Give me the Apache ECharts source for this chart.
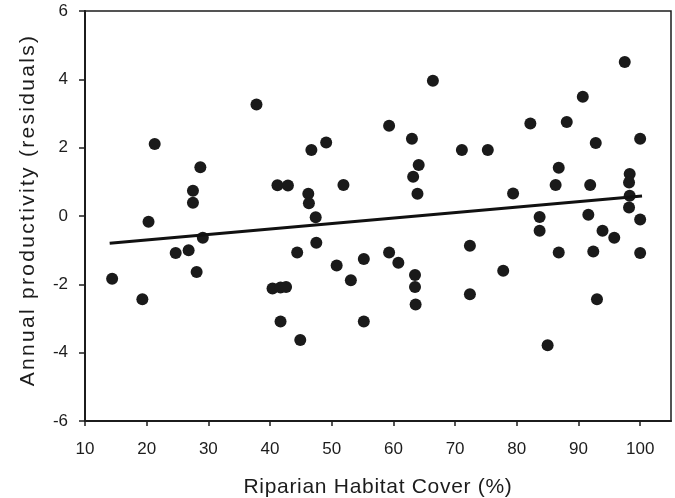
<!DOCTYPE html>
<html>
<head>
<meta charset="utf-8">
<script src="https://cdn.jsdelivr.net/npm/echarts@6/dist/echarts.min.js"></script>
<style>
html,body{margin:0;padding:0;background:#fff;}
#chart{width:675px;height:498px;}
</style>
</head>
<body>
<div id="chart"></div>
<script>
// ---- data ----
const habitatCover = [14.4,19.3,20.3,21.3,24.7,26.8,27.5,27.5,28.1,28.7,29.1,37.8,40.4,41.7,42.6,41.2,42.9,41.7,44.4,44.9,46.2,46.3,46.7,47.4,47.5,49.1,50.8,51.9,53.1,55.2,55.2,59.3,59.3,60.8,63.0,63.2,63.5,63.5,63.6,63.9,64.1,66.4,71.1,72.4,72.4,75.3,77.8,79.4,82.2,83.7,83.7,85.0,86.3,86.8,86.8,88.1,90.7,91.6,91.9,92.4,92.8,93.0,93.9,95.8,97.5,98.3,98.2,98.3,98.2,100,100,100];
const residuals = [-1.84,-2.44,-0.17,2.11,-1.08,-1.00,0.74,0.39,-1.64,1.43,-0.64,3.26,-2.12,-2.09,-2.08,0.90,0.89,-3.09,-1.07,-3.63,0.65,0.37,1.93,-0.04,-0.78,2.15,-1.45,0.91,-1.88,-1.26,-3.09,2.64,-1.07,-1.37,2.26,1.15,-1.73,-2.08,-2.59,0.65,1.49,3.96,1.93,-0.87,-2.29,1.93,-1.60,0.66,2.71,-0.03,-0.43,-3.78,0.91,1.41,-1.07,2.75,3.49,0.04,0.91,-1.04,2.14,-2.44,-0.43,-0.64,4.51,1.23,0.98,0.59,0.25,2.26,-0.10,-1.08];
const fitX = [14, 100.3];
const fitY = [-0.80, 0.585];
const xTicks = [10,20,30,40,50,60,70,80,90,100];
const yTicks = [-6,-4,-2,0,2,4,6];
const xTitle = 'Riparian Habitat Cover (%)';
const yTitle = 'Annual productivity (residuals)';

// letter tracking for the two axis titles only (canvas letterSpacing)
const tracking = {};
tracking[xTitle] = '0.7px';
tracking[yTitle] = '2.3px';
const origFill = CanvasRenderingContext2D.prototype.fillText;
CanvasRenderingContext2D.prototype.fillText = function (t, x, y, w) {
  if (!('letterSpacing' in this)) return origFill.apply(this, arguments);
  const sp = tracking[t] || '0px';
  const f = this.font;
  this.letterSpacing = sp;
  this.font = f;
  return (w === undefined) ? origFill.call(this, t, x, y) : origFill.call(this, t, x, y, w);
};

const points = habitatCover.map((x, i) => [x, residuals[i]]);
const fitLine = fitX.map((x, i) => [x, fitY[i]]);

const FONT = '"Liberation Sans", Arial, sans-serif';
const INK = '#1c1c1c';

const chart = echarts.init(document.getElementById('chart'), null, {renderer: 'canvas'});
chart.setOption({
  animation: false,
  backgroundColor: '#fff',
  grid: {left: 85, right: 4, top: 11, bottom: 77, containLabel: false, outerBoundsMode: 'none',
         show: true, borderColor: INK, borderWidth: 1.5, backgroundColor: 'transparent'},
  xAxis: {
    type: 'value', min: 10, max: 105, interval: 10,
    name: xTitle, nameLocation: 'middle', nameGap: 56,
    nameTextStyle: {fontFamily: FONT, fontSize: 21, color: INK},
    axisLine: {show: true, onZero: false, lineStyle: {color: INK, width: 2}},
    axisTick: {show: true, inside: false, length: 5, customValues: xTicks, lineStyle: {color: INK, width: 1.5}},
    axisLabel: {customValues: xTicks, margin: 20, fontFamily: FONT, fontSize: 17, color: INK},
    splitLine: {show: false}
  },
  yAxis: {
    type: 'value', min: -6, max: 6, interval: 2,
    name: yTitle, nameLocation: 'middle', nameGap: 46, nameRotate: 90,
    nameTextStyle: {fontFamily: FONT, fontSize: 21, color: INK, padding: [0, 0, 0, 12]},
    axisLine: {show: true, onZero: false, lineStyle: {color: INK, width: 2}},
    axisTick: {show: true, inside: false, length: 6, customValues: yTicks, lineStyle: {color: INK, width: 1.5}},
    axisLabel: {customValues: yTicks, margin: 17, fontFamily: FONT, fontSize: 17, color: INK},
    splitLine: {show: false}
  },
  series: [
    {
      type: 'scatter', data: points, symbol: 'circle', symbolSize: 12,
      itemStyle: {color: '#1a1a1a', opacity: 1}, z: 2
    },
    {
      type: 'line', data: fitLine, symbol: 'none', silent: true,
      lineStyle: {color: '#111', width: 3}, z: 3
    }
  ]
});
</script>
</body>
</html>
